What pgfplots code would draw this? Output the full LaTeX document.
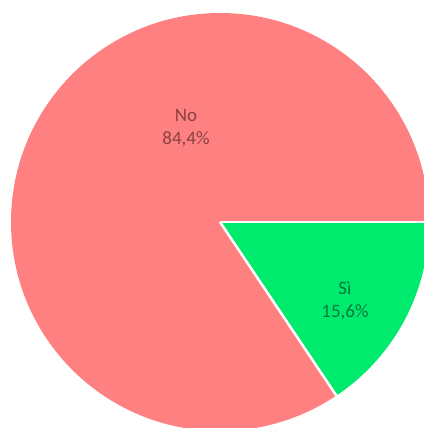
\documentclass[border=0pt]{standalone}
\usepackage{fontspec}
\setmainfont{Carlito}
\usepackage{pgfplots}
\usepackage{pgfplotstable}
\pgfplotsset{compat=1.18}

\definecolor{pieno}{RGB}{255,128,128}
\definecolor{piesi}{RGB}{0,234,110}
\definecolor{txtno}{RGB}{135,66,66}
\definecolor{txtsi}{RGB}{0,122,58}

% share of answers, in percent
\pgfplotstableread{
answer value
No     84.4
Si     15.6
}\piedata

\pgfplotstablegetelem{0}{value}\of\piedata \let\vno\pgfplotsretval
\pgfplotstablegetelem{1}{value}\of\piedata \let\vsi\pgfplotsretval
\pgfmathsetmacro\ano{3.6*\vno}
\pgfmathsetmacro\asi{-3.6*\vsi}

\begin{document}
\begin{tikzpicture}
\begin{axis}[
    scale only axis,
    width=424bp, height=428bp,
    xmin=0, xmax=424, ymin=0, ymax=428,
    hide axis,
    clip=true,
]
  % slices, starting at 3 o'clock
  \fill[pieno] (axis cs:220,206) -- ++(0:209bp)
      arc[start angle=0, end angle=\ano, radius=209bp] -- cycle;
  \fill[piesi] (axis cs:220,206) -- ++(0:209bp)
      arc[start angle=0, end angle=\asi, radius=209bp] -- cycle;
  \draw[white, line width=2.5bp] (axis cs:220,206) -- ++(0:215bp);
  \draw[white, line width=2.5bp] (axis cs:220,206) -- ++(\asi:215bp);

  \node[align=center, text=txtno, font=\fontsize{19}{23}\selectfont]
      at (axis cs:186,300) {No\\84,4\%};
  \node[align=center, text=txtsi, font=\fontsize{19}{23}\selectfont]
      at (axis cs:345,127) {Sì\\15,6\%};
\end{axis}
\pgfresetboundingbox
\path (current axis.south west) rectangle (current axis.north east);
\end{tikzpicture}
\end{document}
